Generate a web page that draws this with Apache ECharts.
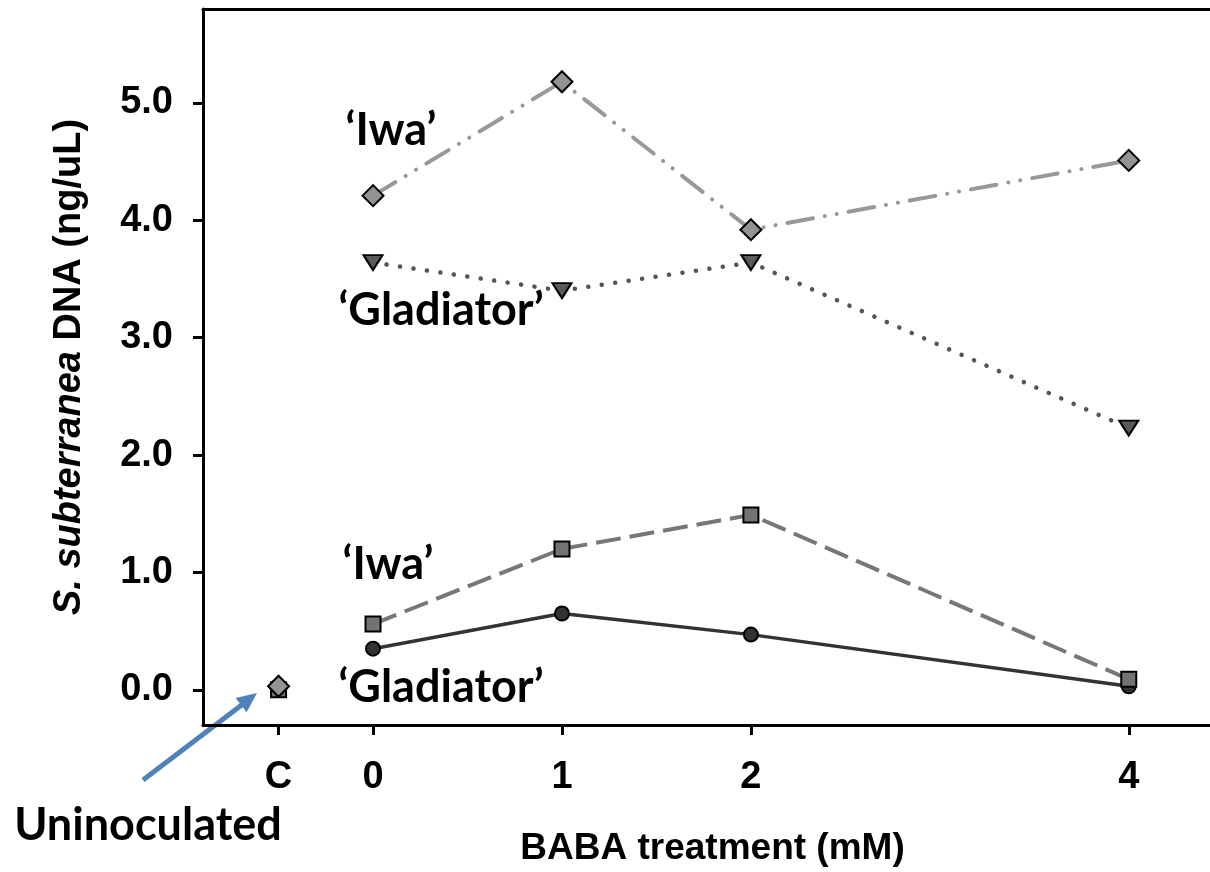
<!DOCTYPE html>
<html>
<head>
<meta charset="utf-8">
<title>S. subterranea DNA vs BABA treatment</title>
<script src="https://cdn.jsdelivr.net/npm/echarts@6/dist/echarts.min.js"></script>
<style>
  html, body { margin: 0; padding: 0; background: #fff; }
  #chart { width: 1210px; height: 872px; }
</style>
</head>
<body>
<div id="chart"></div>
<script>
  // BABA treatment (mM); the uninoculated control "C" sits at -0.5
  const doses = [0, 1, 2, 4]
  const controlX = -0.5
  const xTicks = [-0.5, 0, 1, 2, 4]
  const yTicks = [0, 1, 2, 3, 4, 5]

  // S. subterranea DNA (ng/uL)
  const iwaUpper = [4.21, 5.18, 3.92, 4.51]        // diamonds, dash-dot-dot
  const gladiatorUpper = [3.64, 3.40, 3.64, 2.23]  // triangles, dotted
  const iwaLower = [0.56, 1.20, 1.49, 0.09]        // squares, dashed
  const gladiatorLower = [0.35, 0.65, 0.47, 0.03]  // circles, solid
  const controlSquare = [0.0]
  const controlDiamond = [0.03]

  const axisFont = "'Liberation Sans', Arial, sans-serif"
  const noteFont = "bold 45px Lato, 'Open Sans', sans-serif"

  const pair = (xs, ys) => ys.map((y, i) => [xs[i], y])

  const chart = echarts.init(document.getElementById('chart'))

  function note(text, x, y) {
    return {
      type: 'text',
      style: {
        text: text, x: x, y: y, font: noteFont, fill: '#000',
        align: 'center', verticalAlign: 'middle',
        textAlign: 'center', textVerticalAlign: 'middle'
      }
    }
  }

  chart.setOption({
    animation: false,
    backgroundColor: '#fff',
    grid: { left: 203, right: 0, top: 9, bottom: 146 },
    xAxis: [{
      type: 'value',
      min: -0.9,
      max: 4.43,
      splitLine: { show: false },
      axisLine: { onZero: false, lineStyle: { color: '#000', width: 3 } },
      axisTick: { customValues: xTicks, length: 10, lineStyle: { color: '#000', width: 3 } },
      axisLabel: {
        customValues: xTicks,
        margin: 34,
        color: '#000',
        fontFamily: axisFont,
        fontWeight: 'bold',
        fontSize: 38,
        formatter: v => (v === controlX ? 'C' : String(v))
      },
      name: 'BABA treatment (mM)',
      nameLocation: 'middle',
      nameGap: 105,
      nameTextStyle: {
        color: '#000', fontFamily: axisFont, fontWeight: 'bold', fontSize: 37,
        padding: [0, 0, 0, 12]
      }
    }, {
      type: 'value',
      position: 'top',
      min: -0.9,
      max: 4.43,
      splitLine: { show: false },
      axisTick: { show: false },
      axisLabel: { show: false },
      axisLine: { onZero: false, lineStyle: { color: '#000', width: 3 } }
    }],
    yAxis: {
      type: 'value',
      min: -0.3,
      max: 5.8,
      splitLine: { show: false },
      axisLine: { show: true, onZero: false, lineStyle: { color: '#000', width: 3 } },
      axisTick: { show: true, customValues: yTicks, length: 10, lineStyle: { color: '#000', width: 3 } },
      axisLabel: {
        customValues: yTicks,
        margin: 30,
        color: '#000',
        fontFamily: axisFont,
        fontWeight: 'bold',
        fontSize: 38,
        formatter: v => v.toFixed(1)
      },
      name: '{i|S. subterranea }{n|DNA (ng/uL)}',
      nameLocation: 'middle',
      nameGap: 114,
      nameTextStyle: {
        rich: {
          i: { fontFamily: axisFont, fontWeight: 'bold', fontStyle: 'italic', fontSize: 38, color: '#000' },
          n: { fontFamily: axisFont, fontWeight: 'bold', fontSize: 38, color: '#000' }
        }
      }
    },
    series: [
      {
        name: "'Gladiator' low",
        type: 'line',
        data: pair(doses, gladiatorLower),
        symbol: 'circle',
        symbolSize: 14,
        lineStyle: { color: '#333', width: 3.5 },
        itemStyle: { color: '#333', borderColor: '#000', borderWidth: 2 }
      },
      {
        name: "'Iwa' low",
        type: 'line',
        data: pair(doses, iwaLower),
        symbol: 'rect',
        symbolSize: 15,
        lineStyle: { color: '#777', width: 4, type: [25, 9] },
        itemStyle: { color: '#737373', borderColor: '#000', borderWidth: 2 }
      },
      {
        name: "'Gladiator' high",
        type: 'line',
        data: pair(doses, gladiatorUpper),
        symbol: 'triangle',
        symbolRotate: 180,
        symbolSize: [19, 15],
        lineStyle: { color: '#555', width: 4.5, type: [0.1, 13.5], cap: 'round' },
        itemStyle: { color: '#5a5a5a', borderColor: '#000', borderWidth: 2 }
      },
      {
        name: "'Iwa' high",
        type: 'line',
        data: pair(doses, iwaUpper),
        symbol: 'diamond',
        symbolSize: 21,
        lineStyle: { color: '#999', width: 4, type: [26, 12, 0.1, 12, 0.1, 12], cap: 'round' },
        itemStyle: { color: '#939393', borderColor: '#000', borderWidth: 2 }
      },
      {
        name: 'Uninoculated square',
        type: 'scatter',
        data: controlSquare.map(v => [controlX, v]),
        symbol: 'rect',
        symbolSize: 15,
        itemStyle: { color: '#737373', borderColor: '#000', borderWidth: 2, opacity: 1 }
      },
      {
        name: 'Uninoculated diamond',
        type: 'scatter',
        data: controlDiamond.map(v => [controlX, v]),
        symbol: 'diamond',
        symbolSize: 21,
        itemStyle: { color: '#939393', borderColor: '#000', borderWidth: 2, opacity: 1 }
      }
    ],
    graphic: [
      note('\u2018Iwa\u2019', 391, 130),
      note('\u2018Gladiator\u2019', 441, 310),
      note('\u2018Iwa\u2019', 388, 564),
      note('\u2018Gladiator\u2019', 441, 687),
      note('Uninoculated', 148, 825),
      {
        type: 'line',
        shape: { x1: 143, y1: 780, x2: 243, y2: 704 },
        style: { stroke: '#4f81bd', lineWidth: 5 }
      },
      {
        type: 'polygon',
        shape: { points: [[257, 693], [246.6, 712.3], [235.6, 697.9]] },
        style: { fill: '#4f81bd' }
      }
    ]
  })
</script>
</body>
</html>
